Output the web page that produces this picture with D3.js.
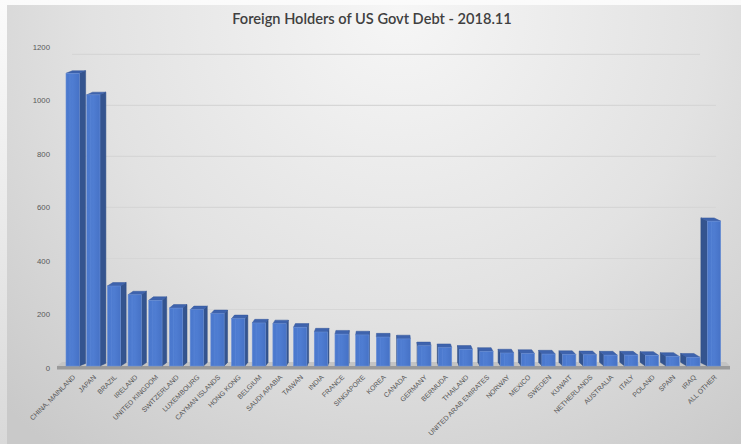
<!DOCTYPE html>
<html lang="en">
<head>
<meta charset="UTF-8" />
<title>Foreign Holders of US Govt Debt</title>
<script src="https://cdn.jsdelivr.net/npm/d3@7"></script>
<style>
  html, body { margin: 0; padding: 0; background: #ffffff; }
  svg { display: block; }
</style>
</head>
<body>
<div id="chart"></div>
<script>
// data (billions USD)
const countries = ["CHINA, MAINLAND", "JAPAN", "BRAZIL", "IRELAND", "UNITED KINGDOM", "SWITZERLAND",
  "LUXEMBOURG", "CAYMAN ISLANDS", "HONG KONG", "BELGIUM", "SAUDI ARABIA", "TAIWAN", "INDIA", "FRANCE",
  "SINGAPORE", "KOREA", "CANADA", "GERMANY", "BERMUDA", "THAILAND", "UNITED ARAB EMIRATES", "NORWAY",
  "MEXICO", "SWEDEN", "KUWAIT", "NETHERLANDS", "AUSTRALIA", "ITALY", "POLAND", "SPAIN", "IRAQ", "ALL OTHER"];
const holdings = [1101, 1020, 301, 268, 247, 218, 212, 197, 178, 162, 159, 146, 128, 120, 117, 109,
  102, 76, 69, 63, 55, 49, 47, 45, 43, 42, 41, 41, 40, 36, 33, 545];
const yTicks = [0, 200, 400, 600, 800, 1000, 1200];

const W = 741, H = 444;
const svg = d3.select("#chart").append("svg").attr("width", W).attr("height", H);
const defs = svg.append("defs");

// backgrounds
const outer = defs.append("linearGradient").attr("id", "outerBg")
  .attr("x1", 0).attr("y1", 0).attr("x2", 0).attr("y2", 1);
outer.append("stop").attr("offset", "0%").attr("stop-color", "#fbfbfb");
outer.append("stop").attr("offset", "100%").attr("stop-color", "#d9d9d9");

const bg = defs.append("radialGradient").attr("id", "chartBg")
  .attr("gradientUnits", "userSpaceOnUse")
  .attr("cx", 400).attr("cy", 10).attr("r", 560);
bg.append("stop").attr("offset", "0%").attr("stop-color", "#f6f6f6");
bg.append("stop").attr("offset", "55%").attr("stop-color", "#e2e2e2");
bg.append("stop").attr("offset", "100%").attr("stop-color", "#c9c9c9");

const front = defs.append("linearGradient").attr("id", "frontFace")
  .attr("x1", 0).attr("y1", 0).attr("x2", 1).attr("y2", 0);
front.append("stop").attr("offset", "0%").attr("stop-color", "#4a78cd");
front.append("stop").attr("offset", "50%").attr("stop-color", "#4f7dd2");
front.append("stop").attr("offset", "100%").attr("stop-color", "#4672c6");

svg.append("rect").attr("width", W).attr("height", H).attr("fill", "url(#outerBg)");
svg.append("rect").attr("x", 7).attr("y", 5).attr("width", W - 7).attr("height", H - 5)
  .attr("fill", "url(#chartBg)");

// title
svg.append("text")
  .attr("x", 372).attr("y", 24)
  .attr("text-anchor", "middle")
  .attr("font-family", "Lato, 'Open Sans', sans-serif")
  .attr("font-size", 14.6)
  .attr("font-weight", 600)
  .attr("fill", "#404040")
  .text("Foreign Holders of US Govt Debt - 2018.11");

// scales
const x = d3.scaleBand().domain(countries).range([66, 720.7]).paddingInner(0.357).paddingOuter(0);
const y = d3.scaleLinear().domain([0, 1200]).range([366, 47]);
const yLab = d3.scaleLinear().domain([0, 1200]).range([368, 47]);

// fake perspective
const vx = 388, vy = 230;
const wallK = 0.04;
const wallY = v => y(v) + (vy - y(v)) * wallK;

// gridlines on the back wall
svg.append("g").selectAll("line")
  .data(yTicks.filter(d => d > 0))
  .join("line")
  .attr("x1", 72).attr("x2", d => 716 - (wallY(d) < 80 ? 16 : 0))
  .attr("y1", d => wallY(d)).attr("y2", d => wallY(d))
  .attr("stroke", "#d6d6d6").attr("stroke-width", 1.2);

// y labels
svg.append("g").selectAll("text")
  .data(yTicks)
  .join("text")
  .attr("x", 50).attr("y", d => yLab(d))
  .attr("dy", "0.35em")
  .attr("text-anchor", "end")
  .attr("font-family", "'Liberation Sans', Arial, sans-serif")
  .attr("font-size", 7.8)
  .attr("fill", "#595959")
  .text(d => d);

// floor
const floorY = y(0);
svg.append("path")
  .attr("d", `M62,${floorY - 4} L726,${floorY - 4} L730,${floorY} L57,${floorY} Z`)
  .attr("fill", "#c4c4c4");
svg.append("path")
  .attr("d", `M57,${floorY} L730,${floorY} L730,${floorY + 3.5} L57,${floorY + 3.5} Z`)
  .attr("fill", "#9a9a9a");

// bars
const bw = x.bandwidth();
const bars = svg.append("g").selectAll("g")
  .data(countries.map((c, i) => ({ name: c, value: holdings[i] })))
  .join("g");

const sideDx = d => 0.02 * (vx - (x(d.name) + bw / 2));
const topDy = d => 2.6 + 0.004 * (y(d.value) - 72);

bars.append("path")
  .attr("d", d => {
    const x0 = x(d.name), x1 = x0 + bw, yt = y(d.value), yb = y(0);
    const dx = sideDx(d), dy = topDy(d);
    const xe = dx >= 0 ? x1 : x0;
    return `M${xe},${yt} L${xe + dx},${yt - dy} L${xe + dx},${yb - dy} L${xe},${yb} Z`;
  })
  .attr("fill", "#34548f")
  .attr("stroke", "#2c4a80").attr("stroke-width", 0.5);

bars.append("path")
  .attr("d", d => {
    const x0 = x(d.name), x1 = x0 + bw, yt = y(d.value);
    const dx = sideDx(d), dy = topDy(d);
    return `M${x0},${yt} L${x1},${yt} L${x1 + dx},${yt - dy} L${x0 + dx},${yt - dy} Z`;
  })
  .attr("fill", "#3e63ad")
  .attr("stroke", "#34579a").attr("stroke-width", 0.5);

bars.append("rect")
  .attr("x", d => x(d.name))
  .attr("y", d => y(d.value))
  .attr("width", bw)
  .attr("height", d => y(0) - y(d.value))
  .attr("fill", "url(#frontFace)")
  .attr("stroke", "#6a8fd6").attr("stroke-width", 0.6);

bars.append("line")
  .attr("x1", d => x(d.name) + bw * 0.3).attr("x2", d => x(d.name) + bw * 0.3)
  .attr("y1", d => y(d.value) + 1).attr("y2", y(0))
  .attr("stroke", "#5d88d8").attr("stroke-width", 0.6);

// x labels
svg.append("g").selectAll("text")
  .data(countries)
  .join("text")
  .attr("transform", d => `translate(${x(d) + bw / 2 + 1.5},${376}) rotate(-45)`)
  .attr("text-anchor", "end")
  .attr("dy", "0.35em")
  .attr("font-family", "'Liberation Sans', Arial, sans-serif")
  .attr("font-size", 6.9)
  .attr("fill", "#555555")
  .text(d => d);
</script>
</body>
</html>
